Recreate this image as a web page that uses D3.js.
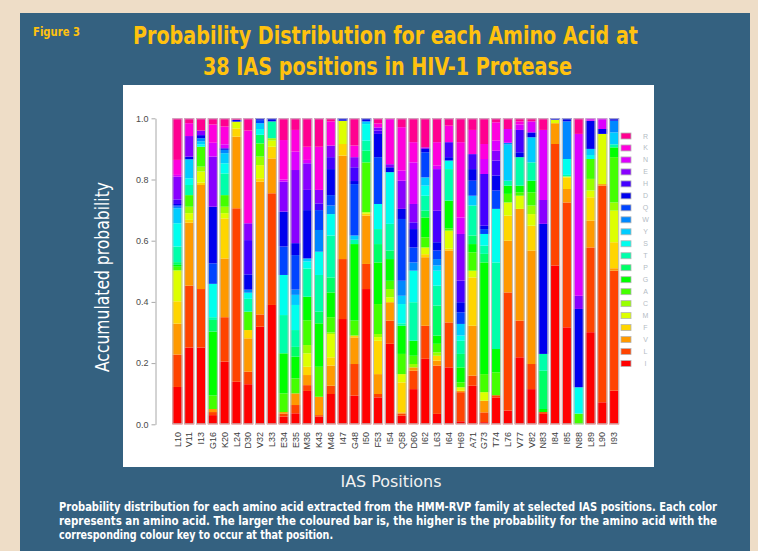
<!DOCTYPE html>
<html><head><meta charset="utf-8">
<script src="https://cdn.jsdelivr.net/npm/d3@7"></script>
<style>
html,body{margin:0;padding:0;background:#EEDDC7;}
svg{display:block;}
</style></head><body>
<svg id="chart" width="758" height="551"></svg>
<script>
// ---------- data ----------
const positions = ["L10","V11","I13","G16","K20","L24","D30","V32","L33","E34","E35","M36","K43","M46","I47","G48","I50","F53","I54","Q58","D60","I62","L63","I64","H69","A71","G73","T74","L76","V77","V82","N83","I84","I85","N88","L89","L90","I93"];
// stacking order bottom -> top
const aminoAcids = ["I","L","V","F","M","C","A","G","P","T","S","Y","W","Q","D","H","E","N","K","R"];
const aaColors = ["#FF0000","#FF4400","#FF9900","#FFD500","#DDFF00","#99FF00","#44FF00","#00FF00","#00FF66","#00FFAA","#00FFEE","#00CCFF","#0088FF","#0044FF","#0000EE","#4400FF","#8800FF","#DD00FF","#FF00DD","#FF0090"];
const yTicks = [0, 0.2, 0.4, 0.6, 0.8, 1.0];

const pI = [.122,.251,.251,.03,.205,.139,.131,.319,.39,.025,.036,.109,.025,.099,.344,.094,.442,.088,.263,.028,.115,.214,.034,.186,.01,.126,.007,.088,.045,.219,.115,.034,.519,.317,0,.301,.072,.11];
const pL = [.106,.202,.191,.01,.145,.567,.041,.04,.365,.01,.027,.019,.005,.027,.196,.103,.082,.011,.076,.007,.06,.108,.158,.147,.095,.033,.032,.007,.386,.12,.082,.006,.397,.408,0,.277,.708,.392];
const pV = [.101,.206,.34,.01,.192,.234,.109,.434,.114,.005,.038,.033,.06,.066,.338,.087,.158,.065,.06,.004,.011,.224,.016,.235,.005,.163,.038,0,.169,.365,.371,0,.068,.044,0,.088,.005,.008];
const pF = [.073,.009,.008,0,.131,.027,.027,.011,.038,0,0,.027,0,.027,.038,.006,.006,.109,0,.098,0,.01,.016,.006,0,.158,0,0,.082,0,.081,0,0,.038,0,.076,0,.085];
const pM = [.101,.022,.036,0,.017,.022,0,.043,.02,0,0,.044,0,.076,.076,0,.005,.012,.016,.027,0,.022,0,.059,.011,.022,.028,0,.043,.043,.038,0,.011,.003,0,.022,.164,.103];
const pC = [0,.021,.016,0,.021,0,0,.028,.008,0,0,.027,0,.005,0,0,0,.01,.027,0,.011,0,.011,0,0,0,0,0,0,0,.028,0,0,0,0,.038,0,.027];
const pA = [.012,.038,.065,.044,.038,0,.06,.043,0,.061,.049,.081,.098,.05,0,.049,.163,.098,.027,.066,.027,.033,.028,.007,.016,.06,.059,.075,.028,.011,.043,0,0,0,.035,.065,0,.148];
const pG = [.006,0,0,.209,0,0,0,0,0,.131,.071,.077,.142,.081,0,.25,0,.136,.071,.092,.049,.065,.027,.091,.049,.027,.365,.076,.027,.022,.038,.01,0,0,0,0,0,.032];
const pP = [.009,0,0,.038,0,0,0,.028,0,0,.032,0,.038,.049,0,0,.038,.06,.028,0,0,.022,.098,0,.044,.028,.028,0,0,0,0,.125,0,0,0,0,0,0];
const pT = [.051,.033,0,.009,.071,0,.042,0,.055,.125,.055,.092,.12,.137,0,.014,.033,.049,.087,.008,.126,.049,.065,.103,.043,.098,.027,.283,.016,.093,.06,.055,0,.005,0,0,0,.01];
const pS = [.076,.022,.008,.109,.033,0,.02,.019,0,.131,.082,.023,.076,.07,0,0,.054,.082,.169,.063,.103,.033,.049,.028,.017,0,.038,.175,0,0,0,0,0,.052,.086,.013,0,0];
const pY = [.049,.062,.01,0,.033,0,0,.019,0,0,.033,.01,0,0,0,.014,.009,0,0,.027,0,.027,.017,0,.038,.032,0,0,.118,0,.082,0,0,0,0,.02,0,.039];
const pW = [.005,0,.01,0,.011,0,.01,0,0,0,.017,0,.071,.028,0,0,0,0,0,.049,.027,0,.021,0,0,0,0,0,.006,0,0,0,0,.123,0,0,0,.038];
const pQ = [.005,0,0,.067,0,0,0,.01,0,.093,.113,0,.065,.034,0,.168,0,.153,0,.202,.049,.082,.028,0,.038,.049,.016,.06,0,0,0,0,0,0,0,0,0,0];
const pD = [.004,.009,.01,.185,.005,.006,.05,.006,.01,.114,.039,.158,0,.085,.008,.01,.01,.076,.016,.033,.06,.011,.027,.011,.033,.038,.011,.049,0,.016,.016,.425,.005,.01,.256,.092,.016,.008];
const pH = [.015,0,0,0,0,0,.112,0,0,0,0,.066,.022,.039,0,.045,0,.011,0,0,.022,0,.103,.049,.071,.049,.169,.049,0,.073,0,0,0,0,0,0,0,0];
const pE = [.074,.067,.015,.164,0,0,.055,0,0,.098,.239,.087,.044,.038,0,.033,0,.01,.01,.092,.06,.005,.136,0,.152,0,0,.032,0,0,0,.078,0,0,.043,0,0,0];
const pN = [.006,0,0,.045,.013,0,0,0,0,.007,.06,.011,0,0,0,0,0,0,0,.033,.136,0,.011,0,.054,0,.049,.033,.045,.018,.036,.229,0,0,.529,.008,.035,0];
const pK = [.049,.042,0,.06,.058,0,.303,0,0,.129,.071,.043,.141,.079,0,.038,0,.013,.148,.142,.066,0,.077,.054,.246,.079,.049,.06,0,.01,0,0,0,0,0,0,0,0];
const pR = [.136,.016,.04,.02,.027,.005,.04,0,0,.071,.038,.093,.093,.01,0,.089,0,.017,.002,.029,.078,.095,.078,.024,.078,.038,.084,.013,.035,.01,.01,.038,0,0,.051,0,0,0];

const series = {I:pI,L:pL,V:pV,F:pF,M:pM,C:pC,A:pA,G:pG,P:pP,T:pT,S:pS,Y:pY,W:pW,Q:pQ,D:pD,H:pH,E:pE,N:pN,K:pK,R:pR};
const rows = positions.map((pos, i) => {
  const r = {pos};
  aminoAcids.forEach(a => r[a] = series[a][i]);
  return r;
});

// ---------- drawing ----------
const svg = d3.select("#chart");
const condensed = "'Liberation Sans Narrow','DejaVu Sans Condensed','Liberation Sans',sans-serif";
const plain = "'Liberation Sans',Arial,'DejaVu Sans',sans-serif";

svg.append("rect").attr("x",0).attr("y",0).attr("width",758).attr("height",551).attr("fill","#EEDDC7");
svg.append("rect").attr("x",20).attr("y",13).attr("width",730).attr("height",538).attr("fill","#346180");
svg.append("rect").attr("x",123).attr("y",85).attr("width",531).attr("height",382).attr("fill","#ffffff");

// titles
svg.append("text").attr("x",33).attr("y",36).text("Figure 3")
  .attr("font-family",condensed).attr("font-weight","bold").attr("font-size",12)
  .attr("fill","#FFC20E").attr("textLength",47).attr("lengthAdjust","spacingAndGlyphs");
svg.append("text").attr("x",385.5).attr("y",43.5).attr("text-anchor","middle")
  .text("Probability Distribution for each Amino Acid at")
  .attr("font-family",condensed).attr("font-weight","bold").attr("font-size",24)
  .attr("fill","#FFC20E").attr("textLength",505).attr("lengthAdjust","spacingAndGlyphs");
svg.append("text").attr("x",387.5).attr("y",75).attr("text-anchor","middle")
  .text("38 IAS positions in HIV-1 Protease")
  .attr("font-family",condensed).attr("font-weight","bold").attr("font-size",24)
  .attr("fill","#FFC20E").attr("textLength",369).attr("lengthAdjust","spacingAndGlyphs");

// scales
const x = d3.scaleBand().domain(positions).range([171.5, 620]).paddingInner(0.15).paddingOuter(0.075);
const y = d3.scaleLinear().domain([0, 1]).range([424.3, 118.3]);
const color = d3.scaleOrdinal().domain(aminoAcids).range(aaColors);

const stacked = d3.stack().keys(aminoAcids)(rows);

const gBars = svg.append("g");
gBars.selectAll("g.layer").data(stacked).join("g")
  .attr("fill", d => color(d.key))
  .selectAll("rect").data(d => d).join("rect")
  .attr("x", d => x(d.data.pos))
  .attr("width", x.bandwidth())
  .attr("y", d => y(d[1]))
  .attr("height", d => Math.max(0, y(d[0]) - y(d[1])));

// bar outlines
gBars.selectAll("rect.outline").data(positions).join("rect")
  .attr("class","outline")
  .attr("x", d => x(d) + 0.5).attr("width", x.bandwidth() - 1)
  .attr("y", y(1) + 0.5).attr("height", y(0) - y(1) - 1)
  .attr("fill","none").attr("stroke","#c2c2c2").attr("stroke-width",1);

// y axis
const yAxis = svg.append("g").attr("transform","translate(155.5,0)")
  .call(d3.axisLeft(y).tickValues(yTicks).tickFormat(d3.format(".1f")).tickSize(4).tickSizeOuter(0).tickPadding(3));
yAxis.select(".domain").attr("stroke","#a8a8a8");
yAxis.selectAll(".tick line").attr("stroke","#a8a8a8");
yAxis.selectAll(".tick text").attr("fill","#4a4a4a").attr("font-size",9).attr("font-family",plain);

// x labels
svg.append("g").selectAll("text").data(positions).join("text")
  .attr("transform", d => `translate(${x(d) + x.bandwidth()/2},432) rotate(-90)`)
  .attr("text-anchor","end").attr("dy","0.35em")
  .attr("font-size",9).attr("font-family",plain).attr("fill","#3a3a3a")
  .text(d => d);

// legend
const legendOrder = aminoAcids.slice().reverse();
const ly = d3.scalePoint().domain(legendOrder).range([136, 363.5]);
const lg = svg.append("g");
lg.selectAll("rect").data(legendOrder).join("rect")
  .attr("x",621).attr("y", d => ly(d) - 3).attr("width",10).attr("height",6)
  .attr("fill", d => color(d)).attr("stroke","#b5b5b5").attr("stroke-width",0.8);
lg.selectAll("text").data(legendOrder).join("text")
  .attr("x",645.5).attr("y", d => ly(d) + 2.5).attr("text-anchor","middle")
  .attr("font-size",7).attr("font-family",plain).attr("fill","#b4bcc4")
  .text(d => d);

// axis titles
svg.append("text").attr("transform","translate(109,277) rotate(-90)").attr("text-anchor","middle")
  .text("Accumulated probability").attr("font-family",condensed).attr("font-size",19)
  .attr("fill","#ffffff").attr("textLength",190).attr("lengthAdjust","spacingAndGlyphs");
svg.append("text").attr("x",391).attr("y",487).attr("text-anchor","middle")
  .text("IAS Positions").attr("font-family",condensed).attr("font-size",16)
  .attr("fill","#f2f2f2").attr("textLength",101).attr("lengthAdjust","spacingAndGlyphs");

// caption
const caption = [
  ["Probability distribution for each amino acid extracted from the HMM-RVP family at selected IAS positions. Each color", 658],
  ["represents an amino acid. The larger the coloured bar is, the higher is the probability for the amino acid with the", 658],
  ["corresponding colour key to occur at that position.", 274]
];
svg.append("g").selectAll("text").data(caption).join("text")
  .attr("x",59).attr("y",(d,i) => 511 + i*14)
  .attr("font-family",condensed).attr("font-weight","bold").attr("font-size",11.5)
  .attr("fill","#ffffff")
  .attr("textLength", d => d[1]).attr("lengthAdjust","spacingAndGlyphs")
  .text(d => d[0]);
</script>
</body></html>
